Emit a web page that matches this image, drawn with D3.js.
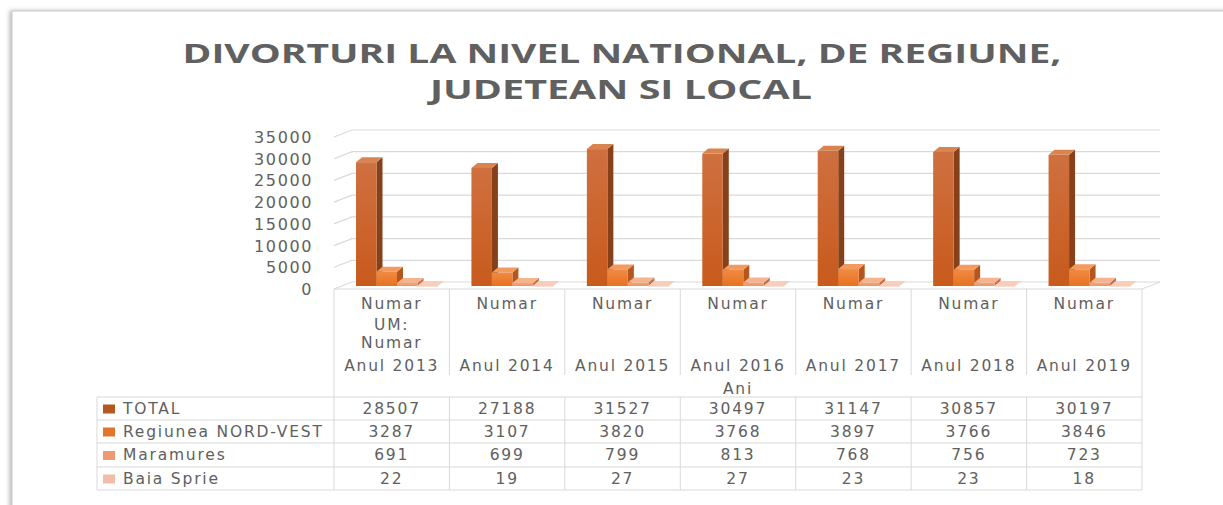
<meta charset="utf-8">
<script src="https://d3js.org/d3.v7.min.js"></script>
<style>
  body { margin: 0; background: #fff; }
  svg { display: block; }
  text { fill: #606060; font-family: "DejaVu Sans", sans-serif; }
</style>
<div id="chart"></div>
<script>
// Date
var ani = ["Anul 2013", "Anul 2014", "Anul 2015", "Anul 2016", "Anul 2017", "Anul 2018", "Anul 2019"]
var serii = ["TOTAL", "Regiunea NORD-VEST", "Maramures", "Baia Sprie"]
var total = [28507, 27188, 31527, 30497, 31147, 30857, 30197]
var nordVest = [3287, 3107, 3820, 3768, 3897, 3766, 3846]
var maramures = [691, 699, 799, 813, 768, 756, 723]
var baiaSprie = [22, 19, 27, 27, 23, 23, 18]
var yTicks = [0, 5000, 10000, 15000, 20000, 25000, 30000, 35000]

var valori = [total, nordVest, maramures, baiaSprie]

// culori: fata (sus/jos), lateral, sus, legenda
var culori = [
  { f1: "#cf7040", f2: "#c85a1c", side: "#86401a", top: "#d9834f", leg: "#b3581f" },
  { f1: "#f08a44", f2: "#e8721f", side: "#b4561d", top: "#f39a60", leg: "#e4742c" },
  { f1: "#f2a67c", f2: "#ec9466", side: "#c27049", top: "#f6b48e", leg: "#ef9a70" },
  { f1: "#f5c2ab", f2: "#f1b399", side: "#d69b82", top: "#f8cdb9", leg: "#f4bda9" }
]

var W = 1223, H = 505
var svg = d3.select("#chart").append("svg").attr("width", W).attr("height", H)

// chenar cu umbra
var defs = svg.append("defs")
var f = defs.append("filter").attr("id", "umbra").attr("x", "-5%").attr("y", "-5%").attr("width", "110%").attr("height", "110%")
f.append("feDropShadow").attr("dx", -2).attr("dy", 0).attr("stdDeviation", 2).attr("flood-color", "#888").attr("flood-opacity", 0.6)
culori.forEach(function(c, j) {
  var lg = defs.append("linearGradient").attr("id", "gr" + j).attr("x1", 0).attr("y1", 0).attr("x2", 0).attr("y2", 1)
  lg.append("stop").attr("offset", "0%").attr("stop-color", c.f1)
  lg.append("stop").attr("offset", "100%").attr("stop-color", c.f2)
})
svg.append("rect").attr("x", 12).attr("y", 11).attr("width", 1240).attr("height", 520)
  .attr("fill", "#fff").attr("stroke", "#c9c9c9").attr("filter", "url(#umbra)")

// titlu
svg.append("text").attr("x", 622).attr("y", 63).attr("text-anchor", "middle")
  .style("font-family", "'Open Sans', sans-serif").style("font-weight", 700).style("font-size", "27px")
  .attr("textLength", 879).attr("lengthAdjust", "spacingAndGlyphs")
  .text("DIVORTURI LA NIVEL NATIONAL, DE REGIUNE,")
svg.append("text").attr("x", 621).attr("y", 99).attr("text-anchor", "middle")
  .style("font-family", "'Open Sans', sans-serif").style("font-weight", 700).style("font-size", "27px")
  .attr("textLength", 382).attr("lengthAdjust", "spacingAndGlyphs")
  .text("JUDETEAN SI LOCAL")

// scale
var x = d3.scaleBand().domain(ani).range([334, 1142])
var x1 = d3.scaleBand().domain(serii).range([21, 103]).paddingInner(0)
var y = d3.scaleLinear().domain([0, 35000]).range([289, 137])

var adX = 18, adY = -7   // adancime perete
var bX = 6, bY = -5      // adancime bara
var grid = "#d9d9d9"

// grila pe perete
var g = svg.append("g")
yTicks.forEach(function(v) {
  g.append("path")
    .attr("d", "M334," + y(v) + "L" + (334 + adX) + "," + (y(v) + adY) + "L" + (1142 + adX) + "," + (y(v) + adY))
    .attr("fill", "none").attr("stroke", grid).attr("stroke-width", 1.2)
})
g.append("line").attr("x1", 334).attr("x2", 1142).attr("y1", y(0)).attr("y2", y(0)).attr("stroke", grid)
g.append("line").attr("x1", 1142).attr("x2", 1142 + adX).attr("y1", y(0)).attr("y2", y(0) + adY).attr("stroke", grid)

// etichete axa y
svg.append("g").selectAll("text").data(yTicks).enter().append("text")
  .attr("x", 313).attr("y", function(d) { return y(d) + 6 })
  .attr("text-anchor", "end").style("font-size", "16px").style("letter-spacing", "1.6px")
  .text(function(d) { return d })

// bare 3D
var bare = svg.append("g")
var baza = -3
ani.forEach(function(an, i) {
  serii.forEach(function(s, j) {
    var v = valori[j][i]
    var x0 = x(an) + x1(s) + 1
    var w = x1.bandwidth()
    var y0 = y(0) + baza
    var yt = y(v) + baza
    var c = culori[j]
    // lateral
    bare.append("path")
      .attr("d", "M" + (x0 + w) + "," + y0 + "L" + (x0 + w + bX) + "," + (y0 + bY) + "L" + (x0 + w + bX) + "," + (yt + bY) + "L" + (x0 + w) + "," + yt + "Z")
      .attr("fill", c.side)
    // sus
    bare.append("path")
      .attr("d", "M" + x0 + "," + yt + "L" + (x0 + bX) + "," + (yt + bY) + "L" + (x0 + w + bX) + "," + (yt + bY) + "L" + (x0 + w) + "," + yt + "Z")
      .attr("fill", c.top)
    // fata
    bare.append("rect").attr("x", x0).attr("y", yt).attr("width", w).attr("height", Math.max(0.5, y0 - yt))
      .attr("fill", "url(#gr" + j + ")")
  })
})

// tabel de date
var t = svg.append("g")
var rows = [397, 420, 443, 467, 490]
rows.forEach(function(r) {
  t.append("line").attr("x1", 97).attr("x2", 1142).attr("y1", r).attr("y2", r).attr("stroke", grid)
})
t.append("line").attr("x1", 97).attr("x2", 97).attr("y1", 397).attr("y2", 490).attr("stroke", grid)
t.append("line").attr("x1", 334).attr("x2", 334).attr("y1", 289).attr("y2", 490).attr("stroke", grid)
t.append("line").attr("x1", 1142).attr("x2", 1142).attr("y1", 289).attr("y2", 490).attr("stroke", grid)
ani.forEach(function(an, i) {
  if (i == 0) return
  t.append("line").attr("x1", x(an)).attr("x2", x(an)).attr("y1", 289).attr("y2", 375).attr("stroke", grid)
  t.append("line").attr("x1", x(an)).attr("x2", x(an)).attr("y1", 397).attr("y2", 490).attr("stroke", grid)
})

var fs = "15.5px", ls = "1.8px"
// antete coloane
ani.forEach(function(an, i) {
  var cx = x(an) + x.bandwidth() / 2
  var lines = i == 0 ? [["Numar", 309], ["UM:", 330], ["Numar", 348], [an, 371]] : [["Numar", 309], [an, 371]]
  lines.forEach(function(l) {
    t.append("text").attr("x", cx).attr("y", l[1]).attr("text-anchor", "middle")
      .style("font-size", fs).style("letter-spacing", ls).text(l[0])
  })
})
t.append("text").attr("x", 738).attr("y", 394).attr("text-anchor", "middle")
  .style("font-size", fs).style("letter-spacing", ls).text("Ani")

// randuri serii
serii.forEach(function(s, j) {
  var cy = (rows[j] + rows[j + 1]) / 2
  t.append("rect").attr("x", 103).attr("y", cy - 4).attr("width", 12).attr("height", 9).attr("fill", culori[j].leg)
  t.append("text").attr("x", 123).attr("y", cy + 5).style("font-size", fs).style("letter-spacing", ls).text(s)
  valori[j].forEach(function(v, i) {
    t.append("text").attr("x", x(ani[i]) + x.bandwidth() / 2).attr("y", cy + 5).attr("text-anchor", "middle")
      .style("font-size", fs).style("letter-spacing", ls).text(v)
  })
})
</script>
